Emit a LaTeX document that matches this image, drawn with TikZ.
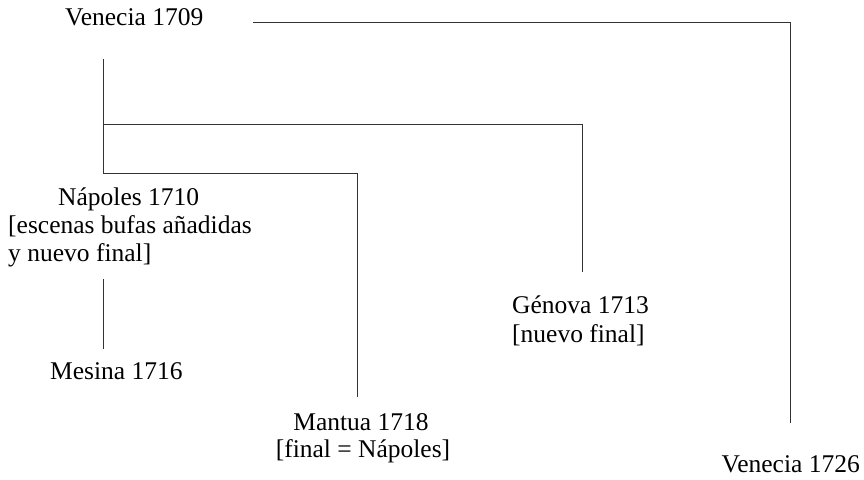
\documentclass[tikz,border=0pt]{standalone}
\usepackage{fontspec}
\setmainfont{Liberation Serif}
\begin{document}
\begin{tikzpicture}[x=1pt,y=-1pt,
  lbl/.style={anchor=base west,inner sep=0pt,font=\fontsize{25.5}{28}\selectfont},
  conn/.style={line width=1pt,color=black!80}]
\useasboundingbox (0,0) rectangle (864,479);
% labels
\node[lbl] (ven1709) at (65,25) {Venecia 1709};
\node[lbl] (nap1) at (58,205) {Nápoles 1710};
\node[lbl] (nap2) at (8,233) {[escenas bufas añadidas};
\node[lbl] (nap3) at (8,261) {y nuevo final]};
\node[lbl] (mes) at (50,379) {Mesina 1716};
\node[lbl] (gen1) at (512,313) {Génova 1713};
\node[lbl] (gen2) at (512,342) {[nuevo final]};
\node[lbl,anchor=base] (man1) at (361,430) {Mantua 1718};
\node[lbl,anchor=base] (man2) at (363,457) {[final = Nápoles]};
\node[lbl,anchor=base east] (ven1726) at (860,472) {Venecia 1726};
% connector points
\coordinate (a0) at (253,22);
\coordinate (a1) at (790,22);
\coordinate (a2) at (790,423);
\coordinate (b0) at (103,59);
\coordinate (b1) at (103,124);
\coordinate (b2) at (103,173);
\coordinate (c1) at (582,124);
\coordinate (c2) at (582,272);
\coordinate (d1) at (357,173);
\coordinate (d2) at (357,397);
\coordinate (e0) at (103,279);
\coordinate (e1) at (103,349);
% connectors
\draw[conn] (a0) -- (a1) -- (a2);
\draw[conn] (b0) -- (b2);
\draw[conn] (b1) -- (c1) -- (c2);
\draw[conn] (b2) -- (d1) -- (d2);
\draw[conn] (e0) -- (e1);
\end{tikzpicture}
\end{document}
